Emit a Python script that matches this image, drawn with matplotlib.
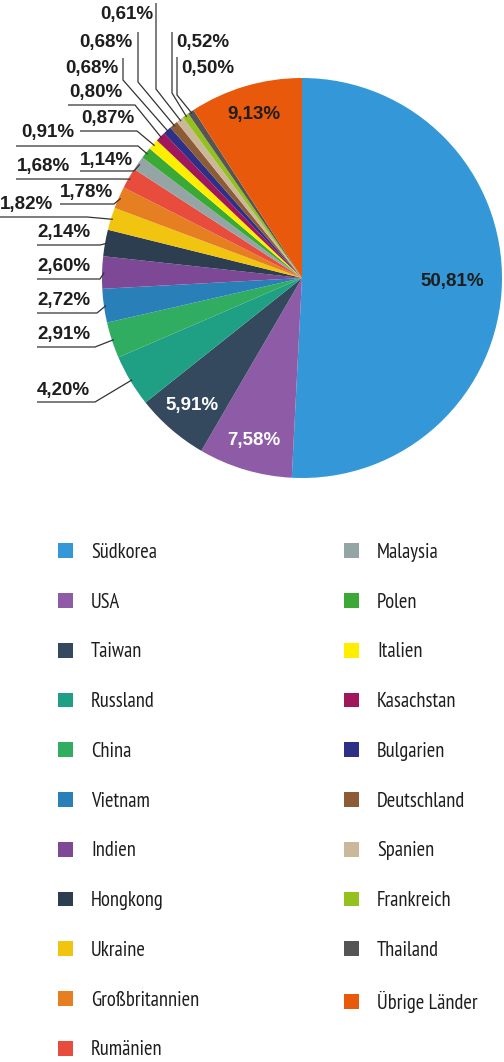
import matplotlib
matplotlib.use('Agg')
import matplotlib.pyplot as plt
import numpy as np

countries = ["Südkorea", "USA", "Taiwan", "Russland", "China", "Vietnam", "Indien",
             "Hongkong", "Ukraine", "Großbritannien", "Rumänien", "Malaysia", "Polen",
             "Italien", "Kasachstan", "Bulgarien", "Deutschland", "Spanien", "Frankreich",
             "Thailand", "Übrige Länder"]
shares = [50.81, 7.58, 5.91, 4.20, 2.91, 2.72, 2.60, 2.14, 1.82, 1.78, 1.68, 1.14,
          0.91, 0.87, 0.80, 0.68, 0.68, 0.61, 0.52, 0.50, 9.13]
colors = ["#3498d8", "#8e5ba6", "#34495e", "#1fa085", "#30ad60", "#2980b9", "#7d4896",
          "#2c3e50", "#f1c40f", "#e67e22", "#e74c3c", "#95a5a6", "#3aa935", "#ffee00",
          "#a0175a", "#2e3088", "#8e5b37", "#cbb89a", "#95c11f", "#555555", "#e8590c"]

W, H = 504, 1062
def Y(y):
    return H - y

BOLD = ['Liberation Sans', 'DejaVu Sans']
NARROW = ['PT Sans Narrow', 'Roboto Condensed', 'Liberation Sans', 'DejaVu Sans']
TXT = '#1e1e1e'
LINE = '#333333'
LFS = 13.5

fig = plt.figure(figsize=(W / 100, H / 100), dpi=100)
ax = fig.add_axes([0, 0, 1, 1])
wedges, _ = ax.pie(shares, colors=colors, startangle=90, counterclock=False,
                   center=(302, Y(278)), radius=200, frame=True)
ax.set_xlim(0, W)
ax.set_ylim(0, H)
ax.set_aspect('equal')
ax.axis('off')

def fmt(v):
    return f"{v:.2f}".replace('.', ',') + '%'

def wedge_point(w, frac=1.0):
    a = np.deg2rad((w.theta1 + w.theta2) / 2)
    cx, cy = w.center
    return cx + w.r * frac * np.cos(a), cy + w.r * frac * np.sin(a)

# inside labels
inner = {0: (0.75, TXT), 1: (0.85, 'white'), 2: (0.84, 'white'), 20: (0.85, TXT)}
for i, (fr, c) in inner.items():
    x, y = wedge_point(wedges[i], fr)
    ax.text(x, y, fmt(shares[i]), ha='center', va='center', color=c,
            fontsize=LFS, fontweight='bold', family=BOLD)

# outside labels with horizontal underline: idx: (text_left, text_y, line_y, line_x0, elbow_x)
horiz = {
    3: (37, 390, 402, 37, 95),
    4: (37, 335, 347, 37, 95),
    5: (37, 300, 313, 37, 97),
    6: (37, 266, 279, 37, 100),
    7: (37, 232, 245, 37, 100),
    8: (0, 204, 217, 0, 87),
    9: (60, 192, 204, 60, 114),
    10: (17, 166, 179, 16, 120),
    11: (80, 160, 171, 80, 134),
    12: (21, 133, 146, 16, 138),
    13: (81, 118, 131, 80, 137),
    14: (69, 93, 105, 68, 135),
}
for i, (tx, ty, ly, lx0, ex) in horiz.items():
    ax.text(tx, Y(ty), fmt(shares[i]), ha='left', va='center', color=TXT,
            fontsize=LFS, fontweight='bold', family=BOLD)
    px, py = wedge_point(wedges[i], 0.99)
    ax.plot([lx0, ex, px], [Y(ly), Y(ly), py], color=LINE, lw=0.9,
            solid_capstyle='butt')

# outside labels with vertical leaders: idx: (text_x, ha, text_y, vx, top_y, bottom_y)
vert = {
    15: (118, 'right', 68, 123, 58, 80),
    16: (133, 'right', 42, 138, 32, 82),
    17: (153, 'right', 14, 156, 3, 89),
    18: (176, 'left', 42, 172, 32, 93),
    19: (181, 'left', 68, 177, 57, 95),
}
for i, (tx, ha, ty, vx, t, b) in vert.items():
    ax.text(tx, Y(ty), fmt(shares[i]), ha=ha, va='center', color=TXT,
            fontsize=LFS, fontweight='bold', family=BOLD)
    px, py = wedge_point(wedges[i], 0.99)
    ax.plot([vx, vx, px], [Y(t), Y(b), py], color=LINE, lw=0.9,
            solid_capstyle='butt')

# legends
fs = 14.8
fspx = fs * 100 / 72
common = dict(loc='upper left', frameon=False, borderpad=0, borderaxespad=0,
              handlelength=15 / fspx, handleheight=15 / fspx,
              handletextpad=18 / fspx, labelspacing=1.495,
              prop={'family': NARROW, 'size': fs}, labelcolor=TXT)
leg1 = ax.legend(wedges[:11], countries[:11], bbox_to_anchor=(58 / W, 1 - 543 / H),
                 **common)
ax.add_artist(leg1)
leg2 = ax.legend(wedges[11:], countries[11:], bbox_to_anchor=(344 / W, 1 - 543 / H),
                 **common)

fig.savefig('out.png', dpi=100)
